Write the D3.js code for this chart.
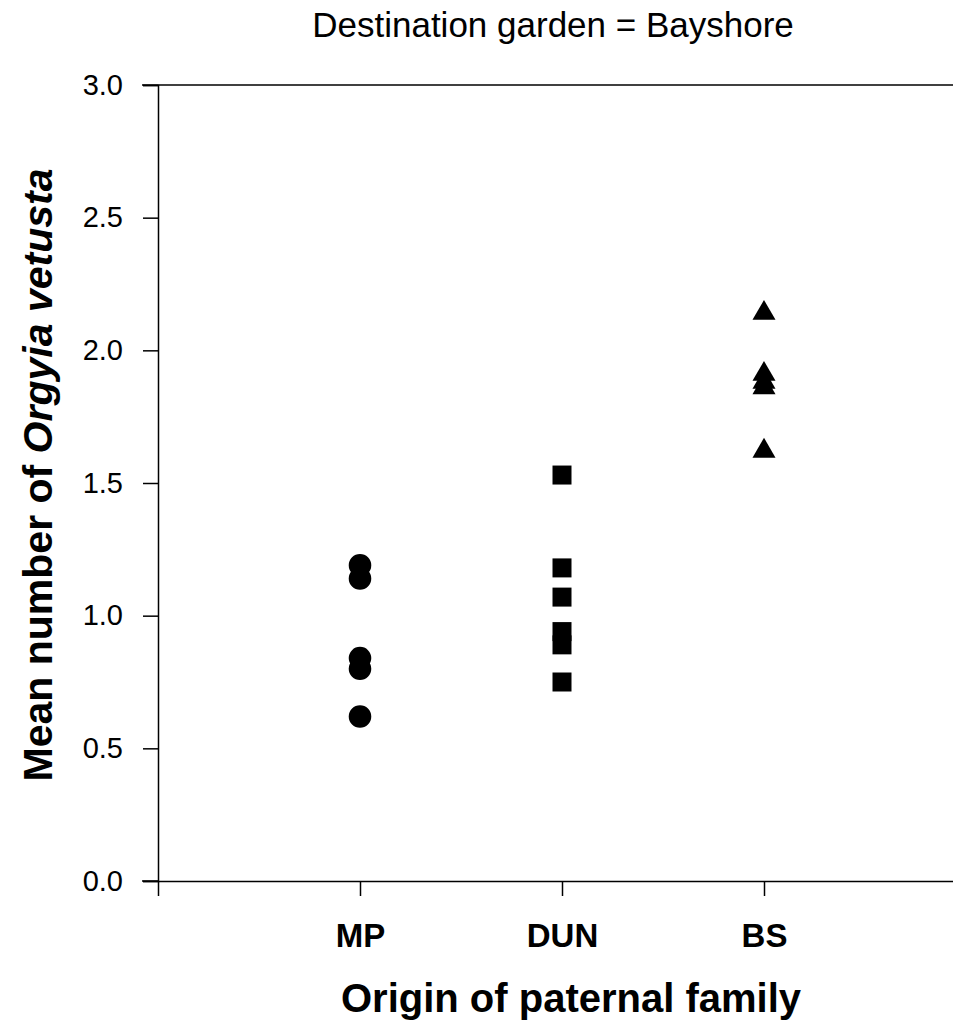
<!DOCTYPE html>
<html>
<head>
<meta charset="utf-8">
<script src="https://cdn.jsdelivr.net/npm/d3@7"></script>
<style>
  body { margin: 0; background: #fff; }
  text { font-family: "Liberation Sans", Arial, sans-serif; fill: #000; }
</style>
</head>
<body>
<div id="chart"></div>
<script>
// 数据
const categories = ['MP', 'DUN', 'BS'];
const mpValues = [1.19, 1.14, 0.84, 0.80, 0.62];
const dunValues = [1.53, 1.18, 1.07, 0.94, 0.89, 0.75];
const bsValues = [2.14, 1.91, 1.88, 1.86, 1.62];
const yTicks = [0.0, 0.5, 1.0, 1.5, 2.0, 2.5, 3.0];

const W = 953, H = 1021;
const svg = d3.select('#chart').append('svg')
    .attr('width', W)
    .attr('height', H);

// 比例尺
let x = d3.scaleLinear().domain([0, 4]).range([158, 966]);
let y = d3.scaleLinear().domain([0, 3]).range([881, 85]);

// 标题
svg.append('text')
    .attr('x', 553).attr('y', 37)
    .attr('text-anchor', 'middle')
    .attr('font-size', 35)
    .text('Destination garden = Bayshore');

// 顶部框线
svg.append('line')
    .attr('x1', 142).attr('x2', W)
    .attr('y1', y(3)).attr('y2', y(3))
    .attr('stroke', '#000').attr('stroke-width', 1.5);

// y轴
let yAxis = d3.axisLeft(y)
    .tickValues(yTicks)
    .tickFormat(d3.format('.1f'))
    .tickSize(15)
    .tickPadding(20);
let gy = svg.append('g')
    .attr('transform', 'translate(' + x(0) + ',0)')
    .call(yAxis);
gy.select('.domain').attr('stroke-width', 1.5);
gy.selectAll('.tick line').attr('stroke-width', 1.5);
gy.selectAll('.tick text')
    .attr('font-size', 29)
    .attr('font-family', '"Liberation Sans", Arial, sans-serif');

// x轴
let xAxis = d3.axisBottom(x)
    .tickValues([0, 1, 2, 3])
    .tickFormat(function (d) { return d === 0 ? '' : categories[d - 1]; })
    .tickSizeInner(15)
    .tickSizeOuter(0)
    .tickPadding(28);
let gx = svg.append('g')
    .attr('transform', 'translate(0,' + y(0) + ')')
    .call(xAxis);
gx.select('.domain').attr('stroke-width', 1.5);
gx.selectAll('.tick line').attr('stroke-width', 1.5);
gx.selectAll('.tick text')
    .attr('font-size', 33)
    .attr('font-weight', 'bold')
    .attr('font-family', '"Liberation Sans", Arial, sans-serif');
// 左端延伸
svg.append('line')
    .attr('x1', 142).attr('x2', x(0))
    .attr('y1', y(0)).attr('y2', y(0))
    .attr('stroke', '#000').attr('stroke-width', 1.5);

// 点
const groups = [
    {values: mpValues, symbol: d3.symbolCircle, size: 400},
    {values: dunValues, symbol: d3.symbolSquare, size: 361},
    {values: bsValues, symbol: d3.symbolTriangle, size: 230}
];
groups.forEach(function (grp, i) {
    svg.append('g').selectAll('path')
        .data(grp.values)
        .enter()
        .append('path')
        .attr('d', d3.symbol().type(grp.symbol).size(grp.size))
        .attr('transform', function (d) {
            return 'translate(' + x(i + 1) + ',' + y(d) + ')';
        })
        .attr('fill', '#000');
});

// 轴标题
svg.append('text')
    .attr('x', 571).attr('y', 1012)
    .attr('text-anchor', 'middle')
    .attr('font-size', 40)
    .attr('font-weight', 'bold')
    .text('Origin of paternal family');

let yl = svg.append('text')
    .attr('transform', 'translate(52,475) rotate(-90)')
    .attr('text-anchor', 'middle')
    .attr('font-size', 41)
    .attr('font-weight', 'bold');
yl.append('tspan').text('Mean number of ');
yl.append('tspan').attr('font-style', 'italic').text('Orgyia vetusta');
</script>
</body>
</html>
